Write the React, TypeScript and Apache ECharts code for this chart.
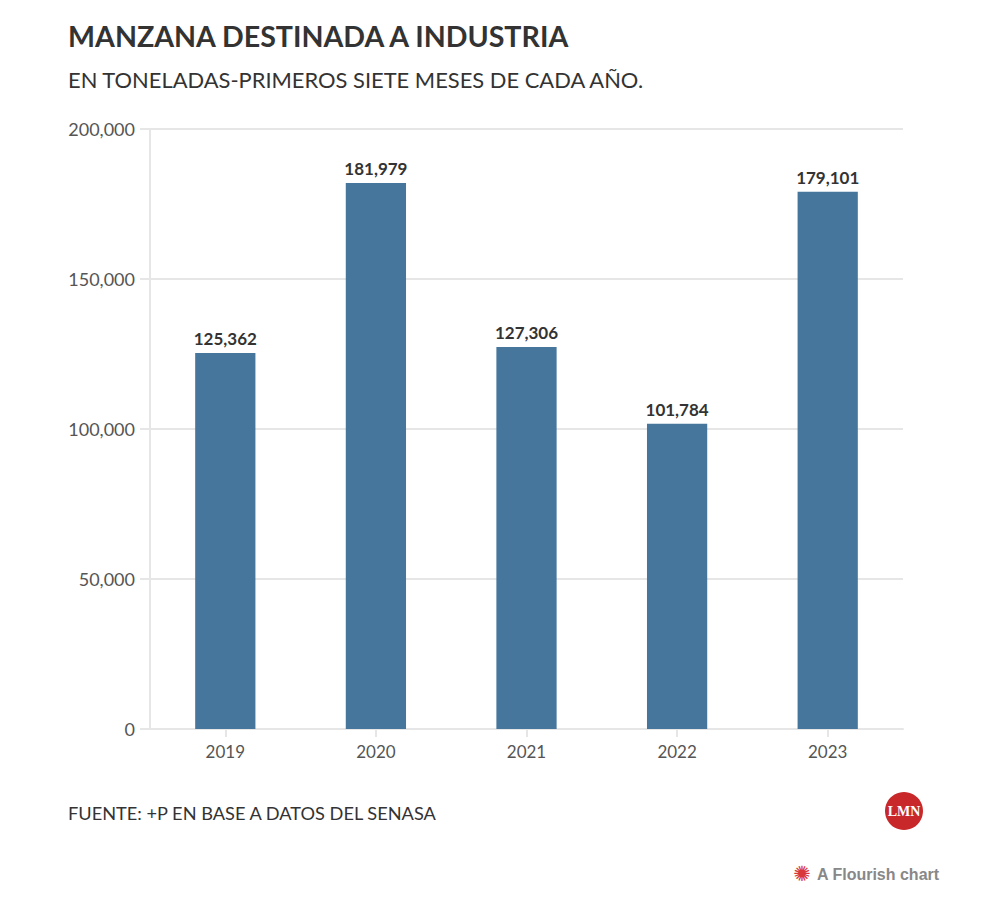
import React, { useEffect, useRef } from "react";
import * as echarts from "echarts";

const years = ["2019", "2020", "2021", "2022", "2023"];
const toneladas = [125362, 181979, 127306, 101784, 179101];
const yTicks = [0, 50000, 100000, 150000, 200000];

const FONT = "Lato, 'Noto Sans', sans-serif";

export default function App() {
  const ref = useRef<HTMLDivElement>(null);
  useEffect(() => {
    if (!ref.current) return;
    const chart = echarts.init(ref.current, undefined, { renderer: "svg" });
    const fmt = (v: number) => v.toLocaleString("en-US");
    chart.setOption({
      animation: false,
      backgroundColor: "#ffffff",
      textStyle: { fontFamily: FONT },
      grid: { left: 150, right: 78, top: 129, bottom: 172, containLabel: false },
      xAxis: {
        type: "category",
        data: years,
        axisLine: { show: true, lineStyle: { color: "#e6e6e6", width: 2 } },
        axisTick: { show: true, alignWithLabel: true, length: 8, lineStyle: { color: "#e6e6e6", width: 2 } },
        axisLabel: { color: "#555555", fontSize: 17, margin: 14, fontFamily: FONT },
      },
      yAxis: {
        type: "value",
        min: yTicks[0],
        max: yTicks[yTicks.length - 1],
        interval: 50000,
        axisLine: { show: true, lineStyle: { color: "#e6e6e6", width: 2 } },
        axisTick: { show: true, length: 10, lineStyle: { color: "#e6e6e6", width: 2 } },
        splitLine: { show: true, lineStyle: { color: "#e6e6e6", width: 2 } },
        axisLabel: { color: "#555555", fontSize: 18, margin: 15, fontFamily: FONT, formatter: (v: number) => fmt(v) },
      },
      series: [
        {
          type: "bar",
          data: toneladas,
          barWidth: "40%",
          itemStyle: { color: "#46769c" },
          label: {
            show: true,
            position: "top",
            distance: 6,
            color: "#333333",
            fontWeight: "bold",
            fontSize: 17,
            fontFamily: FONT,
            formatter: (p: any) => fmt(p.value),
          },
        },
      ],
      graphic: [
        {
          type: "text",
          left: 68,
          top: 21,
          style: { text: "MANZANA DESTINADA A INDUSTRIA", fill: "#333333", font: `bold 28.6px ${FONT}` },
        },
        {
          type: "text",
          left: 68,
          top: 68,
          style: { text: "EN TONELADAS-PRIMEROS SIETE MESES DE CADA AÑO.", fill: "#333333", font: `21.9px ${FONT}` },
        },
        {
          type: "text",
          left: 68,
          top: 804,
          style: { text: "FUENTE: +P EN BASE A DATOS DEL SENASA", fill: "#333333", font: `18.2px ${FONT}` },
        },
        {
          type: "circle",
          shape: { cx: 904, cy: 811, r: 19 },
          style: { fill: "#c9282b" },
        },
        {
          type: "text",
          x: 904,
          y: 811,
          style: {
            text: "LMN",
            fill: "#ffffff",
            font: "bold 14px 'Liberation Serif', serif",
            align: "center",
            verticalAlign: "middle",
          },
        },
        {
          type: "text",
          x: 802,
          y: 874,
          style: { text: "✺", fill: "#d9383a", font: `21px 'DejaVu Sans', sans-serif`, align: "center", verticalAlign: "middle" },
        },
        {
          type: "text",
          x: 817,
          y: 874,
          style: {
            text: "A Flourish chart",
            fill: "#888888",
            font: "bold 16px 'Liberation Sans', Arial, sans-serif",
            verticalAlign: "middle",
          },
        },
      ],
    });
    return () => chart.dispose();
  }, []);
  return <div ref={ref} style={{ position: "absolute", left: 0, top: 0, width: 981, height: 901 }} />;
}
